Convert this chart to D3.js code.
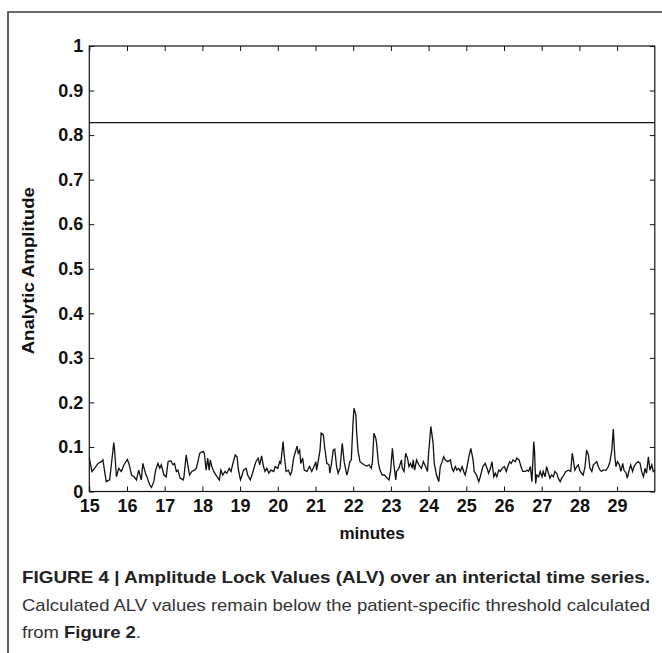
<!DOCTYPE html>
<html>
<head>
<meta charset="utf-8">
<script src="https://cdn.jsdelivr.net/npm/d3@7"></script>
<style>
  body { margin: 0; background: #ffffff; }
  text { font-family: "Liberation Sans", Arial, Helvetica, sans-serif; }
</style>
</head>
<body>
<svg id="alv"></svg>
<script>
let outerWidth = 662
let outerHeight = 653
let margins = { top: 46, bottom: 161.5, left: 89.3, right: 7.2 }
let innerWidth = outerWidth - margins.left - margins.right
let innerHeight = outerHeight - margins.top - margins.bottom

// ALV trace (minutes, amplitude)
let minutes = [
  15.00, 15.07, 15.14, 15.23, 15.32, 15.36, 15.45, 15.54, 15.58, 15.65, 15.67, 15.72, 15.78, 15.85, 15.92,
  16.01, 16.05, 16.12, 16.19, 16.25, 16.31, 16.38, 16.42, 16.49, 16.54, 16.60, 16.65, 16.71, 16.76, 16.82, 16.87, 16.91, 16.98,
  17.04, 17.09, 17.16, 17.22, 17.26, 17.31, 17.35, 17.41, 17.49, 17.51, 17.57, 17.62, 17.66, 17.72, 17.79, 17.84, 17.93,
  18.02, 18.05, 18.10, 18.14, 18.18, 18.21, 18.25, 18.30, 18.36, 18.45, 18.49, 18.54, 18.60, 18.65, 18.71, 18.76, 18.80, 18.87, 18.92, 18.95,
  19.01, 19.04, 19.09, 19.16, 19.20, 19.27, 19.33, 19.38, 19.42, 19.48, 19.52, 19.57, 19.62, 19.66, 19.71, 19.76, 19.82, 19.89, 19.93,
  20.00, 20.05, 20.08, 20.14, 20.17, 20.22, 20.28, 20.33, 20.37, 20.42, 20.51, 20.54, 20.58, 20.61, 20.66, 20.70, 20.77, 20.84, 20.90, 20.94,
  21.01, 21.03, 21.07, 21.12, 21.15, 21.21, 21.24, 21.30, 21.36, 21.38, 21.42, 21.47, 21.51, 21.56, 21.60, 21.65, 21.71, 21.76, 21.83, 21.86, 21.91, 21.95, 21.99,
  22.02, 22.07, 22.09, 22.13, 22.18, 22.24, 22.29, 22.36, 22.42, 22.48, 22.51, 22.55, 22.60, 22.62, 22.67, 22.71, 22.77, 22.83, 22.90, 22.95, 22.99,
  23.04, 23.08, 23.13, 23.15, 23.21, 23.28, 23.30, 23.35, 23.39, 23.44, 23.48, 23.52, 23.57, 23.59, 23.63, 23.68, 23.74, 23.81, 23.86, 23.92, 23.97,
  24.00, 24.06, 24.12, 24.15, 24.21, 24.27, 24.31, 24.36, 24.40, 24.44, 24.51, 24.58, 24.62, 24.66, 24.71, 24.75, 24.80, 24.84, 24.89, 24.93, 24.97,
  25.02, 25.06, 25.12, 25.18, 25.21, 25.27, 25.33, 25.37, 25.44, 25.50, 25.55, 25.59, 25.64, 25.68, 25.73, 25.77, 25.81, 25.86, 25.90, 25.95,
  26.01, 26.06, 26.10, 26.15, 26.19, 26.24, 26.30, 26.34, 26.40, 26.45, 26.50, 26.57, 26.61, 26.65, 26.70, 26.74, 26.79, 26.81, 26.84, 26.87, 26.92, 26.96,
  27.01, 27.04, 27.09, 27.13, 27.18, 27.22, 27.26, 27.31, 27.35, 27.40, 27.44, 27.49, 27.53, 27.59, 27.64, 27.71, 27.77, 27.81, 27.84, 27.88, 27.93, 27.97,
  28.02, 28.06, 28.10, 28.15, 28.19, 28.24, 28.28, 28.33, 28.37, 28.41, 28.46, 28.50, 28.55, 28.59, 28.63, 28.71, 28.77, 28.81, 28.86, 28.90, 28.92, 28.94, 28.97,
  29.01, 29.06, 29.10, 29.15, 29.18, 29.24, 29.27, 29.32, 29.36, 29.41, 29.45, 29.50, 29.56, 29.61, 29.65, 29.70, 29.74, 29.78, 29.83, 29.87, 29.92, 29.96, 30.00
]
let alv = [
  0.075, 0.045, 0.052, 0.063, 0.067, 0.071, 0.022, 0.026, 0.056, 0.110, 0.093, 0.033, 0.052, 0.045, 0.060,
  0.072, 0.063, 0.037, 0.033, 0.026, 0.048, 0.026, 0.063, 0.041, 0.030, 0.015, 0.009, 0.022, 0.048, 0.063, 0.052, 0.060, 0.037,
  0.033, 0.067, 0.069, 0.060, 0.063, 0.045, 0.048, 0.030, 0.026, 0.033, 0.082, 0.056, 0.037, 0.045, 0.048, 0.052, 0.086,
  0.090, 0.086, 0.048, 0.075, 0.048, 0.071, 0.056, 0.045, 0.037, 0.026, 0.048, 0.037, 0.045, 0.041, 0.052, 0.045, 0.060, 0.082, 0.078, 0.052,
  0.026, 0.033, 0.048, 0.052, 0.037, 0.026, 0.041, 0.056, 0.067, 0.075, 0.060, 0.080, 0.056, 0.045, 0.052, 0.041, 0.048, 0.045, 0.056,
  0.052, 0.067, 0.063, 0.112, 0.082, 0.045, 0.048, 0.037, 0.045, 0.075, 0.102, 0.086, 0.093, 0.063, 0.075, 0.048, 0.045, 0.056, 0.045, 0.052,
  0.067, 0.048, 0.067, 0.093, 0.131, 0.127, 0.101, 0.063, 0.060, 0.041, 0.060, 0.093, 0.095, 0.056, 0.041, 0.052, 0.108, 0.067, 0.037, 0.045, 0.067, 0.071, 0.146,
  0.187, 0.172, 0.134, 0.090, 0.067, 0.063, 0.060, 0.057, 0.060, 0.052, 0.067, 0.131, 0.119, 0.108, 0.063, 0.048, 0.037, 0.037, 0.030, 0.026, 0.045,
  0.097, 0.060, 0.026, 0.045, 0.052, 0.071, 0.052, 0.045, 0.086, 0.075, 0.056, 0.063, 0.052, 0.071, 0.048, 0.071, 0.060, 0.052, 0.067, 0.056, 0.045,
  0.086, 0.146, 0.108, 0.063, 0.037, 0.022, 0.056, 0.067, 0.078, 0.071, 0.067, 0.071, 0.052, 0.045, 0.056, 0.048, 0.052, 0.045, 0.056, 0.045, 0.037,
  0.056, 0.075, 0.097, 0.071, 0.045, 0.037, 0.022, 0.033, 0.056, 0.063, 0.052, 0.041, 0.052, 0.067, 0.033, 0.041, 0.033, 0.048, 0.045, 0.052,
  0.056, 0.045, 0.056, 0.067, 0.063, 0.071, 0.067, 0.075, 0.071, 0.056, 0.045, 0.045, 0.048, 0.045, 0.056, 0.022, 0.112, 0.090, 0.018, 0.037, 0.033, 0.045,
  0.033, 0.045, 0.033, 0.056, 0.041, 0.030, 0.037, 0.033, 0.045, 0.041, 0.030, 0.022, 0.030, 0.037, 0.045, 0.048, 0.045, 0.086, 0.071, 0.048, 0.056, 0.060,
  0.045, 0.041, 0.037, 0.056, 0.093, 0.082, 0.052, 0.045, 0.060, 0.063, 0.067, 0.056, 0.048, 0.045, 0.048, 0.048, 0.056, 0.067, 0.093, 0.140, 0.108, 0.078, 0.056,
  0.067, 0.060, 0.045, 0.063, 0.048, 0.041, 0.030, 0.048, 0.060, 0.045, 0.056, 0.063, 0.067, 0.063, 0.045, 0.033, 0.052, 0.041, 0.078, 0.048, 0.060, 0.045, 0.048
]
let threshold = 0.828
let xTicks = [15, 16, 17, 18, 19, 20, 21, 22, 23, 24, 25, 26, 27, 28, 29]
let yTicks = [0, 0.1, 0.2, 0.3, 0.4, 0.5, 0.6, 0.7, 0.8, 0.9, 1]
let yTickLabels = ['0', '0.1', '0.2', '0.3', '0.4', '0.5', '0.6', '0.7', '0.8', '0.9', '1']
let captionTitle = 'FIGURE 4 | Amplitude Lock Values (ALV) over an interictal time series.'
let captionBody = 'Calculated ALV values remain below the patient-specific threshold calculated'

let svg = d3
  .select('#alv')
  .attr('width', outerWidth)
  .attr('height', outerHeight)

let inner = svg
  .append('g')
  .attr('transform', 'translate(' + margins.left + ',' + margins.top + ')')

let minuteScale = d3.scaleLinear().domain([15, 30]).range([0, innerWidth])
let ampScale = d3.scaleLinear().domain([0, 1]).range([innerHeight, 0])

svg // figure frame (left + top)
  .append('path')
  .attr('d', 'M8,' + outerHeight + ' V12 H' + outerWidth)
  .attr('fill', 'none')
  .attr('stroke', '#3a3a3a')
  .attr('stroke-width', 1.6)

// axes, matlab style: ticks point inward, mirrored on top/right
let bottomAxis = d3.axisBottom(minuteScale).tickValues(xTicks).tickFormat(d3.format('d'))
  .tickSizeInner(-5).tickSizeOuter(0).tickPadding(8)
let topAxis = d3.axisTop(minuteScale).tickValues(xTicks).tickFormat('')
  .tickSizeInner(-5).tickSizeOuter(0)
let leftAxis = d3.axisLeft(ampScale).tickValues(yTicks).tickFormat((d, i) => yTickLabels[i])
  .tickSizeInner(-5).tickSizeOuter(0).tickPadding(6)
let rightAxis = d3.axisRight(ampScale).tickValues(yTicks).tickFormat('')
  .tickSizeInner(-5).tickSizeOuter(0)

inner.append('g')
  .attr('class', 'x axis')
  .attr('transform', 'translate(0,' + innerHeight + ')')
  .call(bottomAxis)
inner.append('g').call(topAxis)
inner.append('g').attr('class', 'y axis').call(leftAxis)
inner.append('g').attr('transform', 'translate(' + innerWidth + ',0)').call(rightAxis)

inner.selectAll('.domain').remove()
inner.selectAll('.tick line').attr('stroke', '#111').attr('stroke-width', 1)
inner.selectAll('.axis text')
  .attr('fill', '#111')
  .style('font-size', '18px')
  .style('font-weight', 'bold')

inner // plot box
  .append('rect')
  .attr('width', innerWidth)
  .attr('height', innerHeight)
  .attr('fill', 'none')
  .attr('stroke', '#111')
  .attr('stroke-width', 1.2)

inner // threshold
  .append('line')
  .attr('x1', 0)
  .attr('x2', innerWidth)
  .attr('y1', ampScale(threshold))
  .attr('y2', ampScale(threshold))
  .attr('stroke', '#111')
  .attr('stroke-width', 1.2)

let lineGen = d3.line()
  .x(d => minuteScale(d[0]))
  .y(d => ampScale(d[1]))

inner // alv trace
  .append('path')
  .attr('d', lineGen(d3.zip(minutes, alv)))
  .attr('fill', 'none')
  .attr('stroke', '#111')
  .attr('stroke-width', 1.3)

svg // y text
  .append('text')
  .attr('transform', 'translate(28,' + (margins.top + innerHeight / 2 + 2) + ') rotate(-90)')
  .attr('text-anchor', 'middle')
  .attr('dy', '0.35em')
  .style('font-size', '16.5px')
  .style('font-weight', 'bold')
  .attr('textLength', 167)
  .attr('lengthAdjust', 'spacingAndGlyphs')
  .attr('fill', '#111')
  .text('Analytic Amplitude')

svg // x text
  .append('text')
  .attr('x', margins.left + innerWidth / 2)
  .attr('y', 539)
  .attr('text-anchor', 'middle')
  .style('font-size', '17px')
  .style('font-weight', 'bold')
  .attr('fill', '#111')
  .text('minutes')

// caption
svg.append('text')
  .attr('x', 22)
  .attr('y', 583)
  .style('font-size', '17px')
  .style('font-weight', 'bold')
  .attr('textLength', 628)
  .attr('lengthAdjust', 'spacingAndGlyphs')
  .attr('fill', '#222')
  .text(captionTitle)

svg.append('text')
  .attr('x', 22)
  .attr('y', 611)
  .style('font-size', '17px')
  .attr('textLength', 628)
  .attr('lengthAdjust', 'spacingAndGlyphs')
  .attr('fill', '#333')
  .text(captionBody)

let lastLine = svg.append('text')
  .attr('x', 22)
  .attr('y', 638)
  .style('font-size', '17px')
  .attr('textLength', 119)
  .attr('lengthAdjust', 'spacingAndGlyphs')
  .attr('fill', '#333')
lastLine.append('tspan').text('from ')
lastLine.append('tspan').style('font-weight', 'bold').attr('fill', '#222').text('Figure 2')
lastLine.append('tspan').text('.')
</script>
</body>
</html>
